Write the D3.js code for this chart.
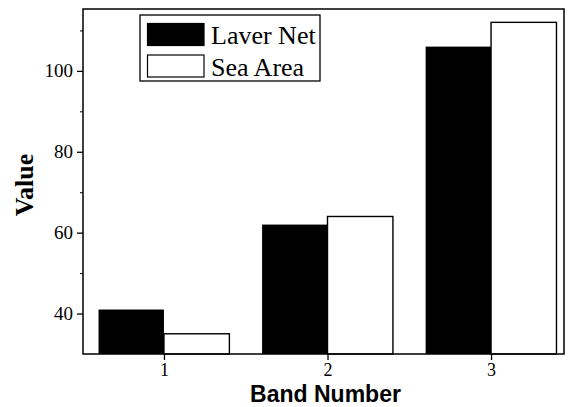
<!DOCTYPE html>
<html>
<head>
<meta charset="utf-8">
<script src="https://cdn.jsdelivr.net/npm/d3@7"></script>
<style>
body { margin: 0; background: #fff; }
svg { display: block; }
</style>
</head>
<body>
<svg id="mysvg" width="573" height="407"></svg>
<script>
var bands = [1, 2, 3]
var laverNet = [41, 62, 106]
var seaArea = [35, 64, 112]
var seriesNames = ['Laver Net', 'Sea Area']
var yTicks = [40, 60, 80, 100]
var yMinor = [50, 70, 90, 110]

// note: "top" is taken by window.top, so use plot* names
var plotLeft = 83
var plotRight = 564
var plotTop = 9
var plotBottom = 354
var barw = 0.4
var serif = "'Liberation Serif', 'Times New Roman', serif"
var sans = "'Liberation Sans', Arial, sans-serif"

var container = d3.select("#mysvg")

var x = d3.scaleLinear().domain([0.505, 3.446]).range([plotLeft, plotRight])
var y = d3.scaleLinear().domain([30, 115.3]).range([plotBottom, plotTop])

// bars, black first then white outlined
container.selectAll(".laver").data(bands).enter().append("rect")
	.attr("class", "laver")
	.attr("x", function(d) { return x(d - barw) })
	.attr("y", function(d, i) { return y(laverNet[i]) })
	.attr("width", function(d) { return x(d) - x(d - barw) })
	.attr("height", function(d, i) { return y(30) - y(laverNet[i]) })
	.attr("fill", "#000")

container.selectAll(".sea").data(bands).enter().append("rect")
	.attr("class", "sea")
	.attr("x", function(d) { return x(d) })
	.attr("y", function(d, i) { return y(seaArea[i]) })
	.attr("width", function(d) { return x(d + barw) - x(d) })
	.attr("height", function(d, i) { return y(30) - y(seaArea[i]) })
	.attr("fill", "#fff")
	.attr("stroke", "#000")
	.attr("stroke-width", 1.4)

// frame
container.append("rect")
	.attr("x", plotLeft).attr("y", plotTop)
	.attr("width", plotRight - plotLeft).attr("height", plotBottom - plotTop)
	.attr("fill", "none").attr("stroke", "#000").attr("stroke-width", 1.5)

// y axis
var yAxis = d3.axisLeft(y).tickValues(yTicks).tickSize(6).tickPadding(4)
var gy = container.append("g").attr("transform", "translate(" + plotLeft + ",0)").call(yAxis)
gy.select(".domain").remove()
gy.selectAll("text").attr("font-family", serif).attr("font-size", 19).attr("fill", "#000")
gy.selectAll("line").attr("stroke-width", 1.3)

var yAxisMinor = d3.axisLeft(y).tickValues(yMinor).tickSize(3).tickFormat("")
var gym = container.append("g").attr("transform", "translate(" + plotLeft + ",0)").call(yAxisMinor)
gym.select(".domain").remove()

// x axis
var xAxis = d3.axisBottom(x).tickValues(bands).tickSize(6).tickPadding(3).tickFormat(d3.format("d"))
var gx = container.append("g").attr("transform", "translate(0," + plotBottom + ")").call(xAxis)
gx.select(".domain").remove()
gx.selectAll("text").attr("font-family", serif).attr("font-size", 18).attr("fill", "#000")
gx.selectAll("line").attr("stroke-width", 1.3)

// axis titles
container.append("text")
	.attr("x", (plotLeft + plotRight) / 2 + 2).attr("y", 402)
	.attr("text-anchor", "middle")
	.attr("font-family", sans).attr("font-weight", "bold").attr("font-size", 23)
	.text("Band Number")

container.append("text")
	.attr("transform", "translate(33,185) rotate(-90)")
	.attr("text-anchor", "middle")
	.attr("font-family", serif).attr("font-weight", "bold").attr("font-size", 26)
	.text("Value")

// legend
var legend = container.append("g").attr("transform", "translate(140,15)")
legend.append("rect")
	.attr("width", 180).attr("height", 66)
	.attr("fill", "#fff").attr("stroke", "#000").attr("stroke-width", 1.3)

var fills = ['#000', '#fff']
var entries = legend.selectAll(".entry").data(seriesNames).enter().append("g")
	.attr("class", "entry")
	.attr("transform", function(d, i) { return "translate(0," + (i * 31.5) + ")" })
entries.append("rect")
	.attr("x", 7.5).attr("y", 8.5).attr("width", 56.5).attr("height", 22)
	.attr("fill", function(d, i) { return fills[i] })
	.attr("stroke", "#000").attr("stroke-width", 1.2)
entries.append("text")
	.attr("x", 71).attr("y", 29)
	.attr("font-family", serif).attr("font-size", 26)
	.text(function(d) { return d })
</script>
</body>
</html>
